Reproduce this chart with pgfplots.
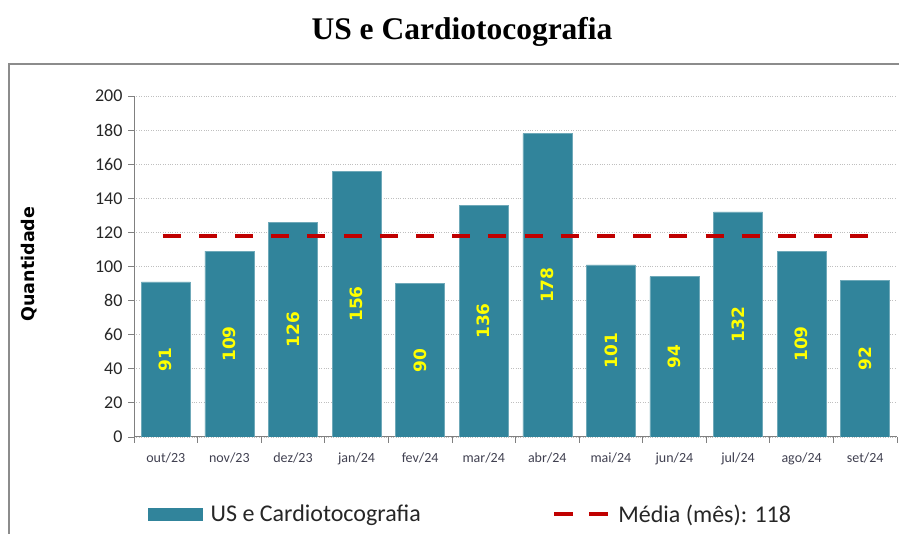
\documentclass[border=0pt]{standalone}
\usepackage{pgfplots}
\pgfplotsset{compat=1.18}
\usepackage{fontspec}
\setmainfont{Carlito}
\newfontfamily\titlefont{Liberation Serif}
\newfontfamily\dvbold{DejaVu Sans}
\definecolor{barteal}{RGB}{49,132,155}
\definecolor{avgred}{RGB}{192,0,0}
\definecolor{framegray}{RGB}{140,140,140}
\definecolor{xlab}{RGB}{64,64,80}
\begin{document}
\begin{tikzpicture}
\useasboundingbox (0,0) rectangle (899pt,534pt);
\draw[framegray, line width=1.2pt] (9pt,-10pt) -- (9pt,470pt) -- (910pt,470pt);
\node[anchor=base, font=\titlefont\bfseries\fontsize{31.5}{36}\selectfont] at (462pt,494pt) {US e Cardiotocografia};
\node[rotate=90, font=\dvbold\bfseries\fontsize{17.5}{20}\selectfont] at (29pt,270pt) {Quantidade};
\begin{axis}[
  at={(134pt,97pt)}, anchor=south west,
  scale only axis, width=763pt, height=341pt,
  xmin=-0.5, xmax=11.5, ymin=0, ymax=200,
  ytick={0,20,...,200},
  xtick={0,...,11},
  xticklabels={out/23,nov/23,dez/23,jan/24,fev/24,mar/24,abr/24,mai/24,jun/24,jul/24,ago/24,set/24},
  minor xtick={-0.5,0.5,...,11.5},
  tick align=outside,
  major tick length=6pt, minor tick length=6pt,
  xtick style={draw=none},
  minor x tick style={draw=gray, line width=0.8pt},
  ytick style={draw=gray, line width=0.8pt},
  axis x line*=bottom, axis y line*=left,
  axis line style={gray, line width=1pt},
  ymajorgrids, major grid style={lightgray, dotted, line width=0.8pt},
  /pgf/number format/assume math mode=true,
  yticklabel style={font=\fontsize{18}{20}\selectfont, text=black!85, xshift=-2pt},
  xticklabel style={font=\fontsize{14}{16}\selectfont, text=xlab, yshift=-6pt},
  legend columns=2,
  legend style={at={(0.01835,-0.2258)}, anchor=west, draw=none, fill=none, inner sep=0pt,
    font=\fontsize{24}{28}\selectfont, text=black!85,
    nodes={inner sep=0pt},
    /tikz/every odd column/.append style={column sep=8pt},
    /tikz/every even column/.append style={column sep=131pt}},
]
\addplot[ybar, bar width=49pt, fill=barteal, draw=barteal!70!white, line width=0.5pt,
  visualization depends on=y \as \rawy,
  nodes near coords,
  nodes near coords style={shift={(axis direction cs:0,-0.5*\rawy)}, rotate=90, anchor=center,
    font=\dvbold\bfseries\fontsize{17}{18}\selectfont, text={rgb,255:red,255;green,255;blue,0}},
  legend image code/.code={\fill[barteal] (0pt,-6pt) rectangle (54pt,6pt);}
] coordinates {(0,91)(1,109)(2,126)(3,156)(4,90)(5,136)(6,178)(7,101)(8,94)(9,132)(10,109)(11,92)};
\addlegendentry{US e Cardiotocografia}
\addplot[avgred, line width=4.5pt, dash pattern=on 18pt off 18.2pt,
  legend image code/.code={\draw[avgred, line width=4.5pt, dash pattern=on 19pt off 16pt] (0pt,0pt) -- (54pt,0pt);}
] coordinates {(-0.05,118)(11.05,118)};
\addlegendentry{Média (mês): 118}
\end{axis}
\end{tikzpicture}
\end{document}
